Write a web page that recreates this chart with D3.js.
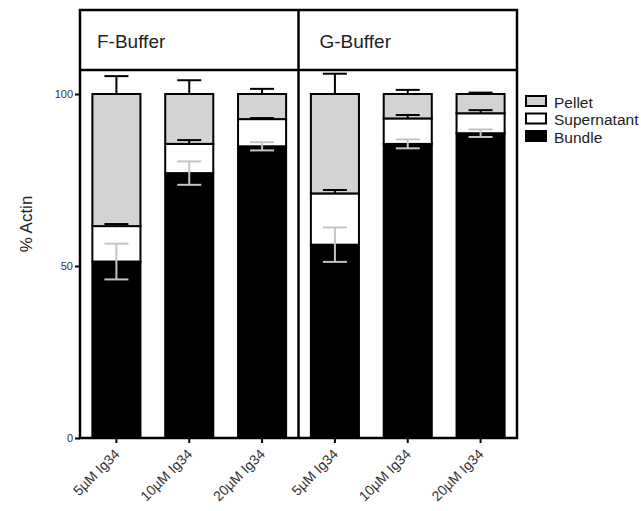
<!DOCTYPE html>
<html>
<head>
<meta charset="utf-8">
<style>
  body { margin: 0; background: #fff; }
  text { font-family: "Liberation Sans", Arial, sans-serif; }
</style>
</head>
<body>
<script src="https://cdn.jsdelivr.net/npm/d3@7"></script>
<script>
// values
var groups = ["F-Buffer", "G-Buffer"];
var concentrations = ["5\u00b5M Ig34", "10\u00b5M Ig34", "20\u00b5M Ig34"];
var bundle      = [51.3, 77.0, 84.8, 56.2, 85.5, 88.6];
var supernatant = [10.3, 8.5, 7.9, 14.9, 7.4, 5.8];
var pellet      = [38.4, 14.5, 7.3, 28.9, 7.1, 5.6];
var bundleErr   = [5.2, 3.4, 1.2, 5.0, 1.3, 1.1];
var supErr      = [0.6, 1.1, 0.3, 1.0, 1.0, 0.9];
var pelletErr   = [5.2, 4.0, 1.5, 5.9, 1.2, 0.4];
var yTicks = [0, 50, 100];
var seriesNames = ["Pellet", "Supernatant", "Bundle"];
var seriesFill = ["#d3d3d3", "#ffffff", "#000000"];

var width = 641, height = 511;
var plotLeft = 80, plotRight = 517, plotTop = 10, headerBottom = 70, plotBottom = 438;

var svg = d3.select("body").append("svg")
  .attr("width", width)
  .attr("height", height);

var keys = [];
groups.forEach(function(g) {
  concentrations.forEach(function(c) { keys.push(g + "|" + c); });
});

var rows = keys.map(function(k, i) {
  return { key: k, bundle: bundle[i], supernatant: supernatant[i], pellet: pellet[i],
           bErr: bundleErr[i], sErr: supErr[i], pErr: pelletErr[i] };
});

var x = d3.scaleBand().domain(keys).range([plotLeft, plotRight]).paddingInner(0.34).paddingOuter(0.17);
var y = d3.scaleLinear().domain([0, 100]).range([plotBottom, 94]);

var stack = d3.stack().keys(["bundle", "supernatant", "pellet"]);
var layers = stack(rows);
var fills = { bundle: "#000000", supernatant: "#ffffff", pellet: "#d3d3d3" };

// bars
svg.selectAll("g.layer").data(layers)
  .enter().append("g")
  .attr("class", "layer")
  .attr("fill", function(d) { return fills[d.key]; })
  .selectAll("rect").data(function(d) { return d; })
  .enter().append("rect")
  .attr("x", function(d) { return x(d.data.key); })
  .attr("width", x.bandwidth())
  .attr("y", function(d) { return y(d[1]); })
  .attr("height", function(d) { return y(d[0]) - y(d[1]); })
  .attr("stroke", "#000")
  .attr("stroke-width", 2);

// error bars
function errBar(topOf, err, color, both) {
  var g = svg.append("g").attr("stroke", color).attr("stroke-width", 2).attr("fill", "none");
  rows.forEach(function(d) {
    var cx = x(d.key) + x.bandwidth() / 2;
    var t = topOf(d), e = err(d);
    var lo = both ? t - e : t;
    g.append("line").attr("x1", cx).attr("x2", cx).attr("y1", y(lo)).attr("y2", y(t + e));
    g.append("line").attr("x1", cx - 12).attr("x2", cx + 12).attr("y1", y(t + e)).attr("y2", y(t + e));
    if (both) g.append("line").attr("x1", cx - 12).attr("x2", cx + 12).attr("y1", y(lo)).attr("y2", y(lo));
  });
}
errBar(function(d) { return d.bundle; }, function(d) { return d.bErr; }, "#c4c4c4", true);
errBar(function(d) { return d.bundle + d.supernatant; }, function(d) { return d.sErr; }, "#000", false);
errBar(function(d) { return d.bundle + d.supernatant + d.pellet; }, function(d) { return d.pErr; }, "#000", false);

// frame, header, divider
var mid = x(keys[3]) - x.step() * x.paddingInner() / 2;
svg.append("rect")
  .attr("x", plotLeft).attr("y", plotTop)
  .attr("width", plotRight - plotLeft).attr("height", plotBottom - plotTop)
  .attr("fill", "none").attr("stroke", "#000").attr("stroke-width", 2.5);
svg.append("line").attr("x1", plotLeft).attr("x2", plotRight).attr("y1", headerBottom).attr("y2", headerBottom)
  .attr("stroke", "#000").attr("stroke-width", 2.5);
svg.append("line").attr("x1", mid).attr("x2", mid).attr("y1", plotTop).attr("y2", plotBottom)
  .attr("stroke", "#000").attr("stroke-width", 2.5);

svg.selectAll("text.header").data(groups)
  .enter().append("text")
  .attr("class", "header")
  .attr("x", function(d, i) { return i === 0 ? plotLeft + 17 : mid + 21; })
  .attr("y", 48)
  .attr("font-size", 19)
  .attr("fill", "#222")
  .text(function(d) { return d; });

// y axis
var yAxis = svg.append("g")
  .attr("transform", "translate(" + plotLeft + ",0)")
  .call(d3.axisLeft(y).tickValues(yTicks).tickSize(5).tickPadding(2));
yAxis.select(".domain").remove();
yAxis.selectAll(".tick line").attr("stroke", "#000").attr("stroke-width", 2);
yAxis.selectAll(".tick text").attr("font-size", 11).style("fill", "#333")
  .style("font-family", "'Liberation Sans', Arial, sans-serif");

svg.append("text")
  .attr("transform", "translate(32,224) rotate(-90)")
  .attr("text-anchor", "middle")
  .attr("font-size", 17)
  .attr("fill", "#222")
  .text("% Actin");

// x axis
var xAxis = svg.append("g")
  .attr("transform", "translate(0," + plotBottom + ")")
  .call(d3.axisBottom(x).tickSize(5).tickFormat(function(k) { return k.split("|")[1]; }));
xAxis.select(".domain").remove();
xAxis.selectAll(".tick line").attr("stroke", "#000").attr("stroke-width", 2);
xAxis.selectAll(".tick text")
  .attr("font-size", 14).style("fill", "#333")
  .style("font-family", "'Liberation Sans', Arial, sans-serif")
  .attr("text-anchor", "end")
  .attr("dy", 0)
  .attr("y", 0)
  .attr("transform", "translate(4,17) rotate(-45)");

// legend
var legend = svg.append("g").attr("transform", "translate(525,95)");
var item = legend.selectAll("g").data(seriesNames)
  .enter().append("g")
  .attr("transform", function(d, i) { return "translate(0," + i * 17.5 + ")"; });
item.append("rect")
  .attr("x", 1).attr("y", 1).attr("width", 20).attr("height", 10)
  .attr("fill", function(d, i) { return seriesFill[i]; })
  .attr("stroke", "#000").attr("stroke-width", 2);
item.append("text")
  .attr("x", 29).attr("y", 12.5)
  .attr("font-size", 15.5)
  .attr("fill", "#222")
  .text(function(d) { return d; });
</script>
</body>
</html>
